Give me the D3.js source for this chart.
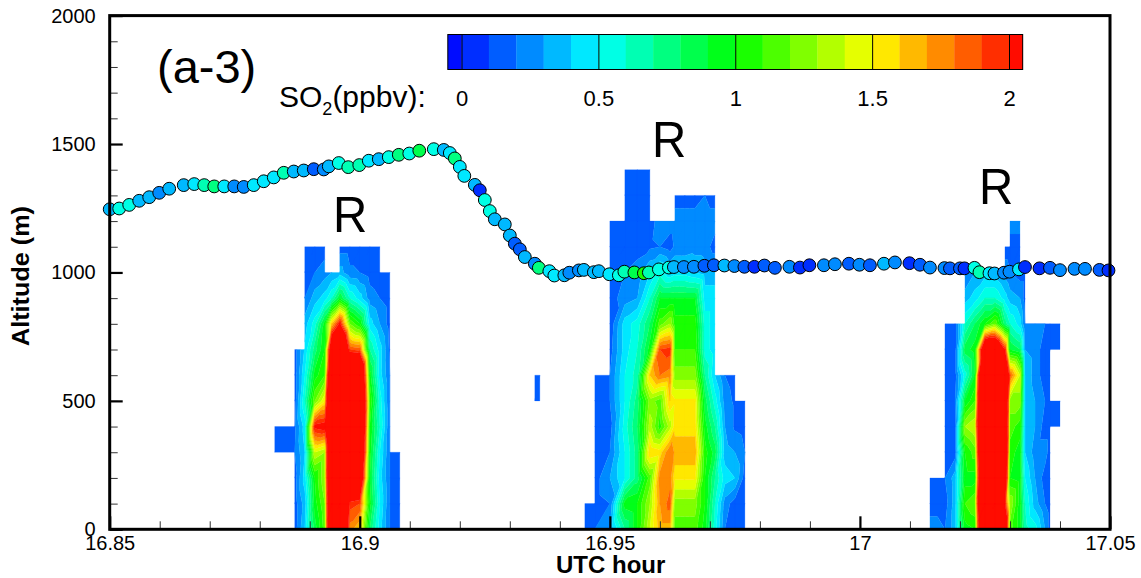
<!DOCTYPE html>
<html>
<head>
<meta charset="utf-8">
<script src="https://cdn.jsdelivr.net/npm/d3@7"></script>
<style>
    html, body { margin: 0; padding: 0; background: #fff; }
    svg { display: block; }
    text { font-family: "Liberation Sans", Arial, sans-serif; fill: #000; }
</style>
</head>
<body>
<div id="my_dataviz"></div>
<script>
const _ = null;

// altitude (m) of each row of the so2 tables, row 0 = ground
const altitudes = [0, 100, 200, 300, 400, 500, 600, 700, 800, 900, 1000, 1100, 1200, 1300, 1400];

const plume1Hours = [16.883, 16.887, 16.889, 16.891, 16.893, 16.8944, 16.896, 16.898, 16.9, 16.902, 16.904, 16.906, 16.908];
const plume1So2 = [
    [_, .15, .4, .85, 1.15, 3.4, 3.4, 1.75, 1.6, .8, .45, .2, .15],
    [_, .15, .35, .95, 1.2, 3.4, 3.4, 1.95, 1.9, .95, .5, .2, .15],
    [_, .15, .45, 1, 1.3, 3.4, 3.4, 3, 2.6, .9, .45, .2, .15],
    [.15, .2, .4, 1.4, 1.3, 3.4, 3.4, 3, 3, .95, .5, .2, .15],
    [.15, .18, .45, 2.05, 2.1, 3.4, 3.4, 3, 3.2, 1, .6, .2, _],
    [_, .15, .6, 1.2, 1.5, 3.4, 3.4, 3, 3.2, 1.1, .55, .2, _],
    [_, .15, .5, .95, 1.1, 3.2, 3.2, 3, 3, .95, .45, .2, _],
    [_, .15, .42, .75, 1, 2.6, 3.2, 1.9, 1.85, .7, .45, .18, _],
    [_, _, .35, .55, .95, 1.6, 2.05, 1.2, 1, .45, .3, .15, _],
    [_, _, .2, .35, .45, .6, .9, .6, .45, .25, .2, .15, _],
    [_, _, .15, .2, .25, .3, .35, .22, .2, .15, .12, .12, _],
    [_, _, .15, .15, .15, _, .15, .15, .15, .15, .15, _, _]
];

const plume2Hours = [16.945, 16.947, 16.95, 16.953, 16.9555, 16.958, 16.96, 16.962, 16.963, 16.965, 16.967, 16.969, 16.971, 16.973, 16.975, 16.977];
const plume2So2 = [
    [.2, .2, .3, .7, 1, 1.4, 1.65, 1.65, 1.15, 1.15, 1.15, .95, .55, .2, .15, .15],
    [.15, .15, .2, .95, 1, 1.3, 1.7, 1.85, 1.25, 1.25, 1.25, 1, .6, .25, .15, .15],
    [_, .15, .3, .5, .75, 1.15, 1.75, 1.75, 1.52, 1.52, 1.52, 1, .7, .45, .4, .15],
    [_, .15, .2, .5, .75, 1.6, 1.55, 1.8, 1.68, 1.68, 1.68, 1.05, .85, .35, .3, .2],
    [_, .15, .15, .55, .8, 1.35, 1.05, 1.35, 1.55, 1.55, 1.55, .95, .7, .3, .18, .15],
    [_, .15, .2, .5, .75, 1.25, 1.15, 1.6, 1.52, 1.52, 1.52, .85, .55, .25, .18, .15],
    [_, .15, .2, .5, .65, 1.6, 1.8, 1.75, 1.25, 1.25, 1.25, .7, .4, .2, .15, _],
    [_, _, .15, .45, .6, .95, 1.9, 1.95, 1.1, 1.1, 1.1, .55, .45, _, _, _],
    [_, _, .12, .45, .55, .8, 1.15, 1.3, 1.05, 1.05, 1.05, .55, .45, _, _, _],
    [_, _, .15, .25, .3, .6, .9, .9, .9, .9, .9, .45, .45, _, _, _],
    [_, _, .15, .2, .25, .4, .55, .4, .45, .45, .4, .35, .35, _, _, _],
    [_, _, .15, .15, .15, .18, .2, .15, .22, .22, .25, .25, .15, _, _, _],
    [_, _, .15, .15, .15, .15, .25, .25, .25, .25, .25, .25, .25, _, _, _],
    [_, _, _, .15, .15, .15, _, _, .15, .15, .15, .2, .15, _, _, _],
    [_, _, _, .15, .15, .15, _, _, _, _, _, _, _, _, _, _]
];

const plume3Hours = [17.014, 17.017, 17.019, 17.021, 17.023, 17.025, 17.027, 17.029, 17.03, 17.032, 17.033, 17.035, 17.037, 17.038, 17.04];
const plume3So2 = [
    [.25, .2, .35, .95, 1, 4, 4, 2.6, 1.15, .95, .65, .55, .3, .15, _],
    [.15, .15, .35, 1.1, 1.2, 4, 4, 2, 1.3, .95, .6, .35, .2, .15, _],
    [.15, .2, .35, .95, .95, 4, 4, 2.6, 1, .95, .5, .3, .15, .15, _],
    [_, .15, .15, 1, 1.15, 4, 4, 3, 1.05, .95, .4, .25, .25, .15, _],
    [_, .15, .15, 1.3, 1.4, 4, 4, 3, 1.15, 1.05, .4, .3, .15, .15, .15],
    [_, .15, .2, .9, 1.1, 4, 4, 3, 1.25, 1.25, .4, .3, .2, .15, .15],
    [_, .15, .15, .55, .9, 4, 4, 3, 1.85, 1.4, .4, .25, .15, .15, _],
    [_, .15, .15, .85, .95, 2.7, 2.7, 2, .9, .8, .3, .25, .15, .15, .15],
    [_, .15, .15, .6, .8, 1, 1.2, .75, .6, .45, .2, .2, .2, .15, .15],
    [_, _, _, .35, .45, .6, .6, .45, .35, .3, .15, _, _, _, _],
    [_, _, _, .2, .3, .35, .35, .25, .2, .15, .15, _, _, _, _],
    [_, _, _, _, _, _, _, .15, .15, .15, _, _, _, _, _],
    [_, _, _, _, _, _, _, _, .25, .25, _, _, _, _, _]
];

// the small stray patch between the first two plumes
const patchHours = [16.935, 16.936];
const patchSo2 = [
    [_, _], [_, _], [_, _], [_, _], [_, _],
    [.15, .15],
    [.15, .15]
];

// flight track
const trackHours = [16.85, 16.8519, 16.8539, 16.8559, 16.8579, 16.8599, 16.8619, 16.8648, 16.8669, 16.8689, 16.8709, 16.8729, 16.8749, 16.8768, 16.8788, 16.8808, 16.8828, 16.8848, 16.8868, 16.8888, 16.8908, 16.8928, 16.8938, 16.8958, 16.8977, 16.8999, 16.9018, 16.9038, 16.9058, 16.9078, 16.9099, 16.9119, 16.9148, 16.9168,
    16.918, 16.919, 16.92, 16.9209, 16.923, 16.924, 16.925, 16.926, 16.927, 16.929, 16.93, 16.931, 16.932, 16.933, 16.935, 16.9358, 16.9379, 16.9389, 16.9409, 16.9419, 16.9438, 16.9448, 16.9468, 16.9478, 16.9499, 16.9518, 16.9529, 16.9549, 16.9568, 16.9578, 16.9598, 16.9618, 16.9628, 16.9648, 16.9668, 16.9689, 16.9708, 16.9729, 16.9749, 16.9769, 16.9789, 16.9809, 16.983,
    16.9859, 16.988, 16.9899, 16.9928, 16.995, 16.9978, 16.9999, 17.002, 17.0048, 17.007, 17.0099, 17.012, 17.014, 17.0169, 17.018, 17.02, 17.0209, 17.0229, 17.0239, 17.0259, 17.0269, 17.0288, 17.0299, 17.0318, 17.033, 17.0359, 17.038, 17.04, 17.0429, 17.045, 17.0479, 17.0497];
const trackAltitudes = [1246, 1249, 1263, 1279, 1293, 1310, 1326, 1340, 1344, 1340, 1335, 1335, 1335, 1333, 1340, 1355, 1370, 1388, 1393, 1397, 1402, 1401, 1413, 1426, 1410, 1418, 1435, 1441, 1449, 1458, 1463, 1474, 1480, 1477,
    1465, 1444, 1411, 1376, 1341, 1320, 1282, 1239, 1207, 1187, 1144, 1112, 1090, 1060, 1034, 1018, 1005, 988, 989, 999, 1008, 1010, 1001, 1005, 993, 989, 1003, 1000, 997, 1000, 1012, 1019, 1021, 1021, 1022, 1026, 1028, 1027, 1025, 1022, 1022, 1027, 1018,
    1022, 1019, 1028, 1028, 1032, 1034, 1030, 1028, 1034, 1039, 1036, 1030, 1019, 1017, 1016, 1016, 1016, 1018, 1001, 997, 996, 999, 1003, 1012, 1021, 1016, 1018, 1009, 1014, 1014, 1010, 1008];
const trackSo2 = [.35, .55, .55, .35, .35, .2, .3, .3, .4, .6, .7, .45, .22, .2, .45, .45, .45, .65, .35, .3, .12, .2, .3, .55, .6, .65, .4, .3, .5, .7, .5, .8, .5, .3,
    .45, .7, .45, .45, .3, .05, .55, .55, .35, .3, .3, .15, .1, .35, .2, .7, .45, .45, .3, .2, .25, .3, .35, .35, .45, .55, .6, .85, 1.05, .6, .5, .55, .35, .25, .2, .15, .12, .3, .25, .15, .03, .15, .15,
    .25, .08, .08, .25, .25, .15, .2, .15, .3, .2, .08, .15, .25, .2, .15, .1, .08, .5, .65, .45, .35, .2, .2, .45, .05, .08, .1, .25, .25, .2, .15, .08];

const xTickValues = [16.85, 16.9, 16.95, 17, 17.05];
const xMinorValues = d3.range(16.85, 17.0501, 0.01);
const yTickValues = [0, 500, 1000, 1500, 2000];
const yMinorValues = d3.range(0, 2001, 100);
const barTickValues = [0, 0.5, 1, 1.5, 2];
const contourLevels = d3.range(0, 21).map(i => i / 10);

var svg = d3.select("#my_dataviz").append("svg")
    .attr("width", 1141)
    .attr("height", 578);

var x = d3.scaleLinear().domain([16.85, 17.05]).range([109.7, 1110]);
var y = d3.scaleLinear().domain([0, 2000]).range([529.3, 15.6]);

// tecplot style rainbow, sampled at the middle of each band
var rainbow = d3.scaleLinear()
    .domain([-0.05, 0.5, 1, 1.5, 2.05])
    .range(["#0000ff", "#00ffff", "#00ff00", "#ffff00", "#ff0000"]);
var bandEdges = [-0.05].concat(contourLevels, [2.05]);
var bandColors = d3.pairs(bandEdges).map(p => rainbow((p[0] + p[1]) / 2));
var bandColor = d3.scaleThreshold().domain(contourLevels).range(bandColors);

// keep the part of a polygon on one side of a level
function clip_side(poly, level, keepAbove) {
    let out = [];
    for (let i = 0; i < poly.length; i++) {
        let a = poly[i], b = poly[(i + 1) % poly.length];
        let aIn = keepAbove ? a.v >= level : a.v <= level;
        let bIn = keepAbove ? b.v >= level : b.v <= level;
        if (aIn) out.push(a);
        if (aIn != bIn) {
            let f = (level - a.v) / (b.v - a.v);
            out.push({ t: a.t + f * (b.t - a.t), h: a.h + f * (b.h - a.h), v: level });
        }
    }
    return out;
}

// grid of times/altitudes -> triangles, like the flooded contours of the original
function grid_triangles(hours, rows) {
    let tris = [];
    for (let r = 0; r < rows.length - 1; r++) {
        for (let c = 0; c < hours.length - 1; c++) {
            let v = [rows[r][c], rows[r][c + 1], rows[r + 1][c + 1], rows[r + 1][c]];
            if (v.some(d => d == null)) continue;
            let p = [
                { t: hours[c], h: altitudes[r], v: v[0] },
                { t: hours[c + 1], h: altitudes[r], v: v[1] },
                { t: hours[c + 1], h: altitudes[r + 1], v: v[2] },
                { t: hours[c], h: altitudes[r + 1], v: v[3] }
            ];
            tris.push([p[0], p[1], p[2]], [p[0], p[2], p[3]]);
        }
    }
    return tris;
}

var triangles = [].concat(
    grid_triangles(plume1Hours, plume1So2),
    grid_triangles(plume2Hours, plume2So2),
    grid_triangles(plume3Hours, plume3So2),
    grid_triangles(patchHours, patchSo2)
);

var flood = svg.append("g");
d3.pairs([-100].concat(contourLevels, [100])).forEach((band, i) => {
    let path = d3.path();
    triangles.forEach(tri => {
        let poly = clip_side(clip_side(tri, band[0], true), band[1], false);
        if (poly.length < 3) return;
        poly.forEach((p, j) => {
            if (j == 0) path.moveTo(x(p.t), y(p.h));
            else path.lineTo(x(p.t), y(p.h));
        });
        path.closePath();
    });
    flood.append("path")
        .attr("d", path.toString())
        .attr("fill", bandColors[i])
        .attr("stroke", bandColors[i])
        .attr("stroke-width", 0.25);
});

// flight track dots
svg.append("g")
    .selectAll("circle")
    .data(trackHours)
    .enter()
    .append("circle")
    .attr("cx", d => x(d))
    .attr("cy", (d, i) => y(trackAltitudes[i]))
    .attr("r", 6.4)
    .attr("fill", (d, i) => bandColor(trackSo2[i]))
    .attr("stroke", "#000")
    .attr("stroke-width", 1);

// axes, ticks point inwards
function style_axis(g, fontSize) {
    g.select(".domain").remove();
    g.selectAll("text").style("font-size", fontSize + "px");
}

var bottomY = y.range()[0], leftX = x.range()[0];

svg.append("g").attr("transform", "translate(0," + bottomY + ")")
    .call(d3.axisBottom(x).tickValues(xMinorValues).tickSize(-8).tickFormat(""))
    .call(g => g.select(".domain").remove())
    .selectAll("line").attr("stroke-width", 1).attr("stroke", "#333");
svg.append("g").attr("transform", "translate(" + leftX + ",0)")
    .call(d3.axisLeft(y).tickValues(yMinorValues).tickSize(-8).tickFormat(""))
    .call(g => g.select(".domain").remove())
    .selectAll("line").attr("stroke-width", 1).attr("stroke", "#333");

var xAxis = svg.append("g").attr("transform", "translate(0," + bottomY + ")")
    .call(d3.axisBottom(x).tickValues(xTickValues).tickSize(-13).tickPadding(7).tickFormat(d3.format("")))
    .call(g => style_axis(g, 20));
xAxis.selectAll("line").attr("stroke-width", 2.2).attr("stroke", "#000");

var yAxis = svg.append("g").attr("transform", "translate(" + leftX + ",0)")
    .call(d3.axisLeft(y).tickValues(yTickValues).tickSize(-13).tickPadding(14).tickFormat(d3.format("")))
    .call(g => style_axis(g, 20));
yAxis.selectAll("line").attr("stroke-width", 2.2).attr("stroke", "#000");

svg.append("rect")
    .attr("x", x.range()[0])
    .attr("y", y.range()[1])
    .attr("width", x.range()[1] - x.range()[0])
    .attr("height", y.range()[0] - y.range()[1])
    .attr("fill", "none")
    .attr("stroke", "#000")
    .attr("stroke-width", 3);

// color bar
var barX = d3.scaleLinear().domain([0, 2]).range([461.5, 1009]);
var barY = { top: 34.5, bottom: 69.5 };
svg.append("g")
    .selectAll("rect")
    .data(d3.pairs(bandEdges))
    .enter()
    .append("rect")
    .attr("x", d => barX(d[0]))
    .attr("y", barY.top)
    .attr("width", d => barX(d[1]) - barX(d[0]) + 0.3)
    .attr("height", barY.bottom - barY.top)
    .attr("fill", (d, i) => bandColors[i]);
svg.append("rect")
    .attr("x", barX(-0.05))
    .attr("y", barY.top)
    .attr("width", barX(2.05) - barX(-0.05))
    .attr("height", barY.bottom - barY.top)
    .attr("fill", "none")
    .attr("stroke", "#000")
    .attr("stroke-width", 1);
svg.append("g").attr("transform", "translate(0," + barY.bottom + ")")
    .call(d3.axisBottom(barX).tickValues(barTickValues).tickSize(-(barY.bottom - barY.top)).tickPadding(21).tickFormat(d3.format("")))
    .call(g => style_axis(g, 22))
    .selectAll("line").attr("stroke", "#000").attr("stroke-width", 1);

// labels
function label(txt, px, py, size, weight, sx) {
    return svg.append("text")
        .attr("transform", "translate(" + px + "," + py + ") scale(" + (sx || 1) + ",1)")
        .style("font-size", size + "px")
        .style("font-weight", weight || "normal")
        .text(txt);
}

label("(a-3)", 157, 83, 47);
label("R", 333, 232, 50, "normal", 0.95);
label("R", 652, 157, 50, "normal", 0.95);
label("R", 979, 204, 50, "normal", 0.95);

var soLabel = label("SO", 279, 106.5, 30);
soLabel.append("tspan").attr("dy", 8).style("font-size", "18px").text("2");
soLabel.append("tspan").attr("dy", -8).text("(ppbv):");

label("UTC hour", 556, 573, 24, "bold");
svg.append("text")
    .attr("transform", "translate(29,276) rotate(-90) scale(1.05,1)")
    .attr("text-anchor", "middle")
    .style("font-size", "24px")
    .style("font-weight", "bold")
    .text("Altitude (m)");
</script>
</body>
</html>
